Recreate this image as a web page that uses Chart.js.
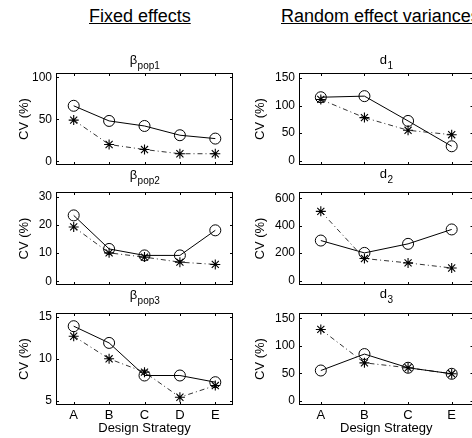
<!DOCTYPE html>
<html>
<head>
<meta charset="utf-8">
<script src="https://cdn.jsdelivr.net/npm/chart.js@4"></script>
<style>
body{margin:0;width:472px;height:438px;overflow:hidden;background:#fff;position:relative;font-family:"Liberation Sans",Arial,sans-serif;}
canvas{position:absolute;top:0;}
.head{position:absolute;top:6px;font-size:18px;text-decoration:underline;white-space:nowrap;color:#000;}
</style>
</head>
<body>
<div class="head" style="left:89px">Fixed effects</div>
<div class="head" style="left:281px">Random effect variances</div>
<canvas id="c1" width="240" height="438" style="left:0"></canvas>
<canvas id="c2" width="240" height="438" style="left:0"></canvas>
<canvas id="c3" width="240" height="438" style="left:0"></canvas>
<canvas id="c4" width="244" height="438" style="left:236px"></canvas>
<canvas id="c5" width="244" height="438" style="left:236px"></canvas>
<canvas id="c6" width="244" height="438" style="left:236px"></canvas>
<script>
// categories (design strategies)
const fixedCats = ["A", "B", "C", "D", "E"];
const randCats = ["A", "B", "C", "E"];

// fixed effects: circles (solid) and stars (dash-dot)
const bpop1Circle = [66, 48, 42, 31, 27];
const bpop1Star = [49, 20, 14, 9, 9];
const bpop2Circle = [23.4, 11.5, 9.2, 9.2, 18.1];
const bpop2Star = [19.3, 10.1, 8.6, 6.8, 6.0];
const bpop3Circle = [13.9, 11.9, 8.0, 8.0, 7.2];
const bpop3Star = [12.7, 10.0, 8.4, 5.4, 6.8];

// random effect variances
const d1Circle = [115, 117, 72, 26];
const d1Star = [111, 78, 55, 47];
const d2Circle = [292, 202, 268, 373];
const d2Star = [505, 161, 129, 92];
const d3Circle = [55, 85, 60, 49];
const d3Star = [130, 69, 60, 49];

// tick labels
const bpop1Ticks = [0, 50, 100];
const bpop2Ticks = [0, 10, 20, 30];
const bpop3Ticks = [5, 10, 15];
const d1Ticks = [0, 50, 100, 150];
const d2Ticks = [0, 200, 400, 600];
const d3Ticks = [0, 50, 100, 150];

const FONT = "'Liberation Sans', Arial, sans-serif";

// box + inward ticks + subplot title (matlab look)
const boxPlugin = {
    id: "box",
    afterDraw(chart, args, opts) {
        const ctx = chart.ctx;
        const a = chart.chartArea;
        const x = chart.scales.x, y = chart.scales.y;
        ctx.save();
        ctx.strokeStyle = "#000";
        ctx.lineWidth = 1;
        ctx.strokeRect(Math.round(a.left) + 0.5, Math.round(a.top) + 0.5,
            Math.round(a.right - a.left) - 1, Math.round(a.bottom - a.top) - 1);
        ctx.beginPath();
        y.ticks.forEach(t => {
            const py = Math.round(y.getPixelForValue(t.value)) + 0.5;
            ctx.moveTo(a.left, py); ctx.lineTo(a.left + 3, py);
            ctx.moveTo(a.right, py); ctx.lineTo(a.right - 3, py);
        });
        x.ticks.forEach((t, i) => {
            const px = Math.round(x.getPixelForTick(i)) + 0.5;
            ctx.moveTo(px, a.bottom); ctx.lineTo(px, a.bottom - 3);
            ctx.moveTo(px, a.top); ctx.lineTo(px, a.top + 3);
        });
        ctx.stroke();

        // title with subscript
        ctx.fillStyle = "#000";
        ctx.textBaseline = "middle";
        ctx.textAlign = "left";
        ctx.font = "13px " + FONT;
        const w1 = ctx.measureText(opts.main).width;
        ctx.font = "10px " + FONT;
        const w2 = ctx.measureText(opts.sub).width;
        const cx = (a.left + a.right) / 2;
        const sx = cx - (w1 + w2) / 2;
        ctx.font = "13px " + FONT;
        ctx.fillText(opts.main, sx, opts.ty);
        ctx.font = "10px " + FONT;
        ctx.fillText(opts.sub, sx + w1 + 0.5, opts.ty + 6);
        ctx.restore();
    }
};

function makeChart(id, cats, circ, star, range, ticks, geom, title, showX) {
    const xH = showX ? 438 - geom.bottom : 0;
    new Chart(document.getElementById(id), {
        type: "line",
        data: {
            labels: cats,
            datasets: [{
                data: circ,
                borderColor: "#000",
                borderWidth: 1,
                pointStyle: "circle",
                pointRadius: 5.5,
                pointBorderColor: "#000",
                pointBackgroundColor: "rgba(0,0,0,0)",
                pointBorderWidth: 1,
                fill: false,
                tension: 0
            }, {
                data: star,
                borderColor: "#333",
                borderWidth: 1,
                borderDash: [5, 3, 1, 3],
                pointStyle: "star",
                pointRadius: 5,
                pointBorderColor: "#000",
                pointBorderWidth: 1.1,
                fill: false,
                tension: 0
            }]
        },
        options: {
            responsive: false,
            animation: false,
            layout: {
                padding: {
                    left: 0,
                    right: geom.canvasW - geom.right,
                    top: geom.top,
                    bottom: 438 - geom.bottom - xH
                }
            },
            plugins: {
                legend: { display: false },
                tooltip: { enabled: false },
                box: title
            },
            scales: {
                x: {
                    offset: true,
                    grid: { display: false, drawTicks: false },
                    border: { display: false },
                    ticks: { display: showX, color: "#000", padding: 3, font: { size: 13, family: FONT } },
                    title: { display: showX, text: "Design Strategy", color: "#000", padding: { top: 0, bottom: 2 }, font: { size: 13, family: FONT } },
                    afterFit: s => { s.height = xH; }
                },
                y: {
                    min: range[0],
                    max: range[1],
                    grid: { display: false, drawTicks: false },
                    border: { display: false },
                    ticks: { color: "#000", padding: 4, font: { size: 12, family: FONT } },
                    afterBuildTicks: s => { s.ticks = ticks.map(v => ({ value: v })); },
                    title: { display: true, text: "CV (%)", color: "#000", padding: { top: 17, bottom: 0 }, font: { size: 13, family: FONT } },
                    afterFit: s => { s.width = geom.left; }
                }
            }
        },
        plugins: [boxPlugin]
    });
}

const rows = [{ top: 73, bottom: 165 }, { top: 192, bottom: 285 }, { top: 313, bottom: 405 }];
const leftCol = { left: 56, right: 233, canvasW: 240 };
const rightCol = { left: 63, right: 240, canvasW: 244 };
const g = (col, row) => Object.assign({}, col, rows[row]);

makeChart("c1", fixedCats, bpop1Circle, bpop1Star, [-4.4, 105], bpop1Ticks, g(leftCol, 0), { main: "β", sub: "pop1", ty: 60 }, false);
makeChart("c2", fixedCats, bpop2Circle, bpop2Star, [-1.3, 31.7], bpop2Ticks, g(leftCol, 1), { main: "β", sub: "pop2", ty: 175 }, false);
makeChart("c3", fixedCats, bpop3Circle, bpop3Star, [4.47, 15.48], bpop3Ticks, g(leftCol, 2), { main: "β", sub: "pop3", ty: 295 }, true);
makeChart("c4", randCats, d1Circle, d1Star, [-8, 159], d1Ticks, g(rightCol, 0), { main: "d", sub: "1", ty: 60 }, false);
makeChart("c5", randCats, d2Circle, d2Star, [-32, 646], d2Ticks, g(rightCol, 1), { main: "d", sub: "2", ty: 174 }, false);
makeChart("c6", randCats, d3Circle, d3Star, [-8, 160], d3Ticks, g(rightCol, 2), { main: "d", sub: "3", ty: 294 }, true);
</script>
</body>
</html>
